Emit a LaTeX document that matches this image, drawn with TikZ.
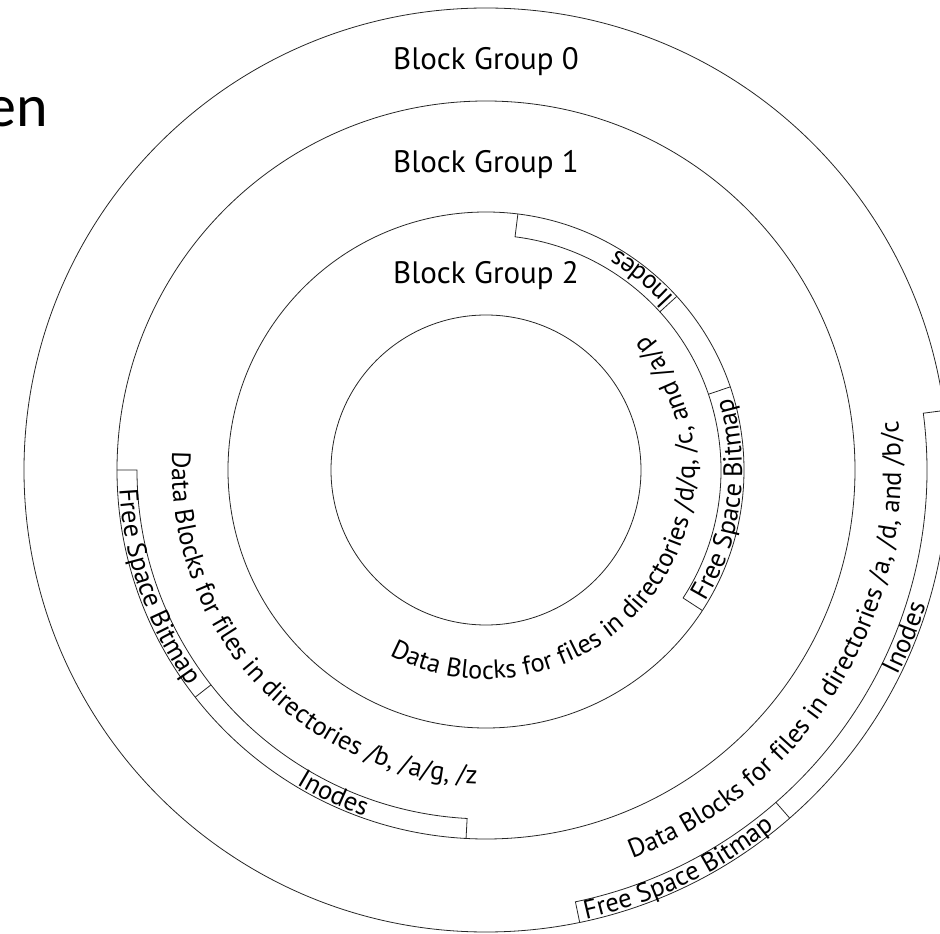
\documentclass[tikz,border=0pt]{standalone}
\usepackage{fontspec}
\setmainfont{PT Sans}
\newfontfamily\enfont{Carlito}
\usetikzlibrary{decorations.text}
\newcommand\lblfont{\fontsize{26.3}{30}\selectfont}
\newcommand\bandfont{\fontsize{26.5}{30}\selectfont}
\newcommand\ringlabel[4]{% #1 centre angle, #2 baseline radius, #3 font, #4 text
  \path[decorate, decoration={text along path, text align=center, text={|#3|#4}}]
    ({#1-120}:#2) arc[start angle={#1-120}, end angle={#1+120}, radius=#2];}
\begin{document}
\begin{tikzpicture}[x=1pt, y=1pt,
  ring/.style={draw=black!85, line width=0.8pt},
  grouplabel/.style={font=\fontsize{31}{36}\selectfont, inner sep=0pt, anchor=base}]
\useasboundingbox (-486,-464) rectangle (454,470);
\coordinate (c) at (0,0);
% ring boundaries
\draw[ring] (c) circle (462);
\draw[ring] (c) circle (369);
\draw[ring] (c) circle (258);
\draw[ring] (c) circle (155);
% group 0 band (outer ring, right side)
\draw[ring] (-78.3:462) -- (-78.3:441) arc[start angle=-78.3, end angle=7.4, radius=441] -- (7.4:462);
\draw[ring] (-48.9:441) -- (-48.9:462);
% group 1 band (left / bottom)
\draw[ring] (180:369) -- (180:349) arc[start angle=180, end angle=266.9, radius=349] -- (266.9:369);
\draw[ring] (218:349) -- (218:369);
% group 2 band (upper right)
\draw[ring] (-33:258) -- (-33:235) arc[start angle=-33, end angle=82.9, radius=235] -- (82.9:258);
\draw[ring] (42.3:235) -- (42.3:258);
\draw[ring] (18.8:235) -- (18.8:258);
% group titles
\node[grouplabel] (g0) at (0,400) {Block Group 0};
\node[grouplabel] (g1) at (0,297) {Block Group 1};
\node[grouplabel] (g2) at (0,186) {Block Group 2};
% cropped heading fragment
\node[font=\enfont\fontsize{60}{70}\selectfont, inner sep=0pt, anchor=base east] (en) at (-438,343) {en};
% data block labels
\ringlabel{-38.75}{209}{\lblfont}{Data Blocks for files in directories /d/q, /c, and /a/p}
\ringlabel{222.5}{314}{\lblfont}{Data Blocks for files in directories /b, /a/g, /z}
\ringlabel{-31.3}{415}{\lblfont}{Data Blocks for files in directories /a, /d, and /b/c}
% band labels
\ringlabel{199.5}{367}{\bandfont}{Free Space Bitmap}
\ringlabel{244.8}{367}{\bandfont}{Inodes}
\ringlabel{50.9}{256}{\bandfont}{Inodes}
\ringlabel{-7.3}{256}{\bandfont}{Free Space Bitmap}
\ringlabel{-64.3}{460}{\bandfont}{Free Space Bitmap}
\ringlabel{-21.8}{460}{\bandfont}{Inodes}
\end{tikzpicture}
\end{document}
